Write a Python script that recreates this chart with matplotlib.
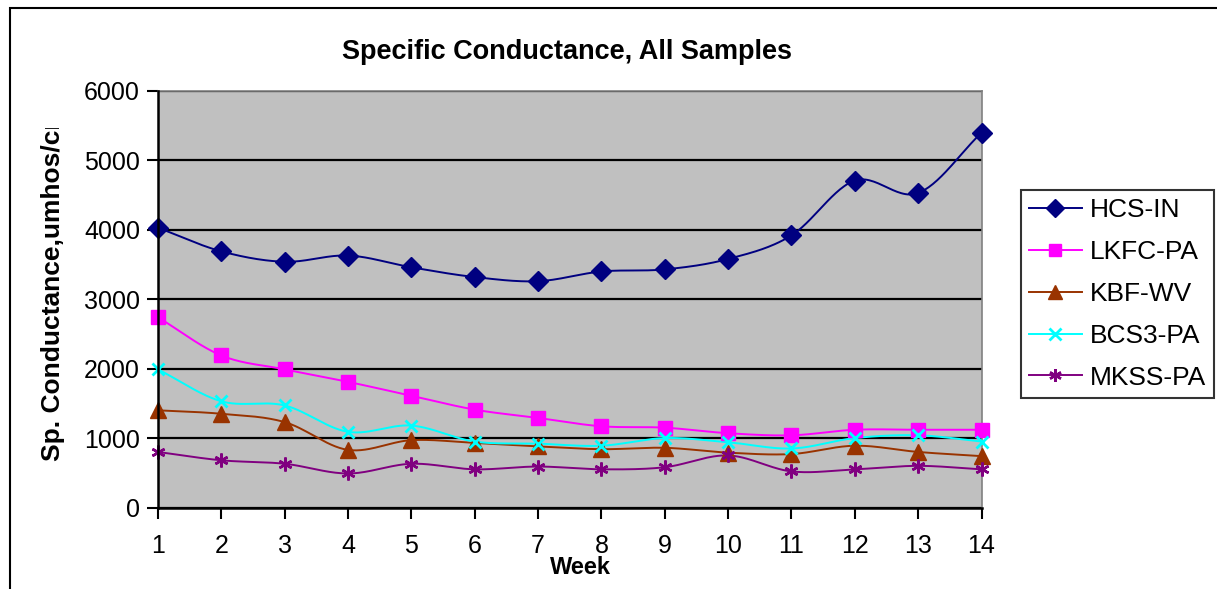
import numpy as np
import matplotlib
matplotlib.use("Agg")
import matplotlib.pyplot as plt
from matplotlib.patches import Rectangle

plt.rcParams['font.family'] = ['Liberation Sans', 'DejaVu Sans']

weeks = list(range(1, 15))
hcs_in = [4030, 3690, 3540, 3630, 3460, 3320, 3260, 3400, 3430, 3580, 3920, 4710, 4530, 5400]
lkfc_pa = [2740, 2190, 1990, 1810, 1610, 1410, 1290, 1170, 1150, 1070, 1040, 1120, 1120, 1120]
kbf_wv = [1400, 1350, 1230, 830, 970, 930, 880, 840, 860, 790, 770, 890, 800, 740]
bcs3_pa = [1990, 1530, 1470, 1090, 1180, 950, 920, 890, 1000, 940, 850, 1000, 1040, 950]
mkss_pa = [800, 680, 630, 490, 630, 550, 590, 550, 580, 750, 520, 550, 600, 550]

series_names = ["HCS-IN", "LKFC-PA", "KBF-WV", "BCS3-PA", "MKSS-PA"]
y_ticks = [0, 1000, 2000, 3000, 4000, 5000, 6000]


def smooth(x, y, n=30):
    """Bezier smoothing similar to Excel's smoothed line."""
    x = np.asarray(x, float)
    y = np.asarray(y, float)
    px = np.concatenate([[2 * x[0] - x[1]], x, [2 * x[-1] - x[-2]]])
    py = np.concatenate([[2 * y[0] - y[1]], y, [2 * y[-1] - y[-2]]])
    xs, ys = [], []
    t = np.linspace(0, 1, n, endpoint=False)
    for i in range(1, len(px) - 2):
        p0x, p1x, p2x, p3x = px[i - 1:i + 3]
        p0y, p1y, p2y, p3y = py[i - 1:i + 3]
        c1x = p1x + (p2x - p0x) / 6
        c1y = p1y + (p2y - p0y) / 6
        c2x = p2x - (p3x - p1x) / 6
        c2y = p2y - (p3y - p1y) / 6
        bx = (1 - t) ** 3 * p1x + 3 * (1 - t) ** 2 * t * c1x + 3 * (1 - t) * t ** 2 * c2x + t ** 3 * p2x
        by = (1 - t) ** 3 * p1y + 3 * (1 - t) ** 2 * t * c1y + 3 * (1 - t) * t ** 2 * c2y + t ** 3 * p2y
        xs.append(bx)
        ys.append(by)
    xs.append([x[-1]])
    ys.append([y[-1]])
    return np.concatenate(xs), np.concatenate(ys)


fig = plt.figure(figsize=(12.17, 5.89), dpi=100)
fig.patch.set_facecolor("white")

# outer chart border (cropped at right and bottom)
fig.add_artist(Rectangle((10 / 1217, -0.1), 1.2, 1 - 8 / 589 + 0.1,
                         transform=fig.transFigure, fill=False,
                         edgecolor="black", linewidth=1.5, zorder=0))

ax = fig.add_axes([158 / 1217, 1 - 507.5 / 589, (981.5 - 158) / 1217, (507.5 - 91) / 589])
ax.set_facecolor("#C0C0C0")

styles = [
    dict(color="#000080", marker="D", ms=10, mew=1),
    dict(color="#FF00FF", marker="s", ms=10, mew=1),
    dict(color="#993300", marker="^", ms=11, mew=1),
    dict(color="#00FFFF", marker="x", ms=9, mew=2),
    dict(color="#800080", marker=(6, 2, 0), ms=10, mew=1.8),
]
data = [hcs_in, lkfc_pa, kbf_wv, bcs3_pa, mkss_pa]

handles = []
for name, vals, st in zip(series_names, data, styles):
    sx, sy = smooth(weeks, vals)
    ax.plot(sx, sy, color=st["color"], lw=1.4, zorder=3, clip_on=False)
    ax.plot(weeks, vals, linestyle="none", marker=st["marker"], ms=st["ms"],
            mfc=st["color"], mec=st["color"], mew=st["mew"], zorder=4, clip_on=False)
    h, = ax.plot([], [], color=st["color"], lw=1.4, marker=st["marker"], ms=st["ms"] * 0.9,
                 mfc=st["color"], mec=st["color"], mew=st["mew"])
    handles.append(h)

ax.set_xlim(1, 14)
ax.set_ylim(0, 6000)
ax.set_xticks(weeks)
ax.set_yticks(y_ticks)
ax.tick_params(axis="both", labelsize=18, direction="out", length=8, width=1.5, color="black")
ax.tick_params(axis="x", pad=11)
ax.tick_params(axis="y", pad=5)
ax.yaxis.grid(True, color="black", linewidth=1.6)
ax.set_axisbelow(True)
for s in ["left", "bottom"]:
    ax.spines[s].set_color("black")
    ax.spines[s].set_linewidth(1.8)
    ax.spines[s].set_zorder(5)
for s in ["top", "right"]:
    ax.spines[s].set_color("#808080")
    ax.spines[s].set_linewidth(1.2)

fig.text(567 / 1217, 1 - 52 / 589, "Specific Conductance, All Samples",
         ha="center", va="center", fontsize=19.5, fontweight="bold")
fig.text(580 / 1217, 1 - 568 / 589, "Week", ha="center", va="center",
         fontsize=17, fontweight="bold")

fig.text(53 / 1217, 1 - 461 / 589, "Sp. Conductance,umhos/cm", rotation=90,
         ha="center", va="bottom", fontsize=19, fontweight="bold", zorder=3)
# the reference's axis title is cut off at its top
fig.add_artist(Rectangle((25 / 1217, 1 - 128 / 589), 50 / 1217, 115 / 589,
                         transform=fig.transFigure, facecolor="white",
                         edgecolor="none", zorder=10))

leg = fig.legend(handles, series_names, loc="upper left",
                 bbox_to_anchor=(1021 / 1217, 1 - 190 / 589),
                 fontsize=19, frameon=True, fancybox=False, handlelength=2.0,
                 labelspacing=0.68, borderpad=0.3, handletextpad=0.32, borderaxespad=0)
leg.get_frame().set_edgecolor("black")
leg.get_frame().set_linewidth(1.5)

fig.savefig("out.png", dpi=100, facecolor="white")
